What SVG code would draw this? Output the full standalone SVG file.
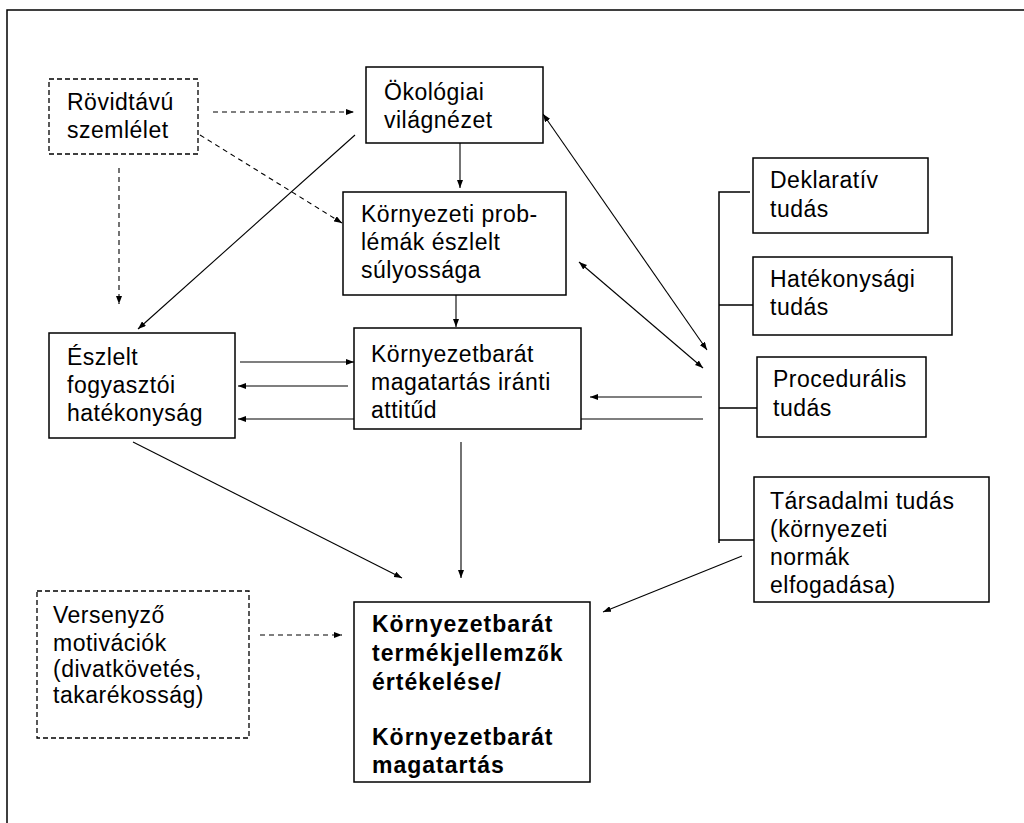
<svg xmlns="http://www.w3.org/2000/svg" width="1024" height="823" viewBox="0 0 1024 823">
<style>
text{font-family:"Liberation Sans",Arial,sans-serif;font-size:23px;letter-spacing:0.5px;fill:#000}
.b{font-weight:bold;letter-spacing:1px}
.box{fill:#fff;stroke:#000;stroke-width:1.5}
.dbox{fill:#fff;stroke:#000;stroke-width:1.3;stroke-dasharray:5 3}
.c{fill:none;stroke:#000;stroke-width:1.1}
.d{stroke-dasharray:5 4}
.a{marker-end:url(#ah)}
.aa{marker-start:url(#ah);marker-end:url(#ah)}
</style>
<defs>
<marker id="ah" viewBox="0 0 8 6" refX="8" refY="3" markerWidth="8" markerHeight="6" orient="auto-start-reverse" markerUnits="userSpaceOnUse"><path d="M0,0 L8,3 L0,6 z" fill="#000"/></marker>
</defs>
<rect width="1024" height="823" fill="#fff"/>
<path d="M7,823 V10 H1024" fill="none" stroke="#000" stroke-width="1.5"/>
<g id="connectors">
<path class="c d a" d="M213,112 H354"/>
<path class="c d a" d="M200,135 L342,223"/>
<path class="c d a" d="M119,168 V304"/>
<path class="c d a" d="M260,635 H342"/>
<path class="c a" d="M355,135 L138,329"/>
<path class="c a" d="M460,143 V188"/>
<path class="c a" d="M456,295 V327"/>
<path class="c a" d="M240,362 H354"/>
<path class="c a" d="M348,386 H238"/>
<path class="c a" d="M703,419 H238"/>
<path class="c a" d="M702,397 H590"/>
<path class="c aa" d="M543,114 L707,350"/>
<path class="c aa" d="M579,262 L703,368"/>
<path class="c a" d="M133,442 L402,578"/>
<path class="c a" d="M461,442 V578"/>
<path class="c a" d="M742,556 L603,612"/>
<path class="c" stroke-width="1.5" d="M750,192 H719 V543 M719,305 H753 M719,408 H757 M719,540 H755" style="stroke-width:1.5"/>
</g>
<g id="rovidtavu">
<rect class="dbox" x="49" y="79" width="149" height="75"/>
<text x="67" y="110">Rövidtávú</text>
<text x="67" y="138">szemlélet</text>
</g>
<g id="okologiai">
<rect class="box" x="366" y="67" width="177" height="76"/>
<text x="384" y="100">Ökológiai</text>
<text x="384" y="128">világnézet</text>
</g>
<g id="kornyezeti-problemak">
<rect class="box" x="343" y="192" width="223" height="103"/>
<text x="361" y="222">Környezeti prob-</text>
<text x="361" y="250">lémák észlelt</text>
<text x="361" y="278">súlyossága</text>
</g>
<g id="eszlelt">
<rect class="box" x="49" y="333" width="186" height="105"/>
<text x="67" y="365">Észlelt</text>
<text x="67" y="393">fogyasztói</text>
<text x="67" y="421">hatékonyság</text>
</g>
<g id="attitud">
<rect class="box" x="354" y="328" width="227" height="101"/>
<text x="371" y="362">Környezetbarát</text>
<text x="371" y="390">magatartás iránti</text>
<text x="371" y="418">attitűd</text>
</g>
<g id="deklarativ">
<rect class="box" x="753" y="158" width="175" height="75"/>
<text x="770" y="188">Deklaratív</text>
<text x="770" y="217">tudás</text>
</g>
<g id="hatekonysagi">
<rect class="box" x="753" y="257" width="199" height="78"/>
<text x="770" y="287">Hatékonysági</text>
<text x="770" y="315">tudás</text>
</g>
<g id="proceduralis">
<rect class="box" x="757" y="357" width="169" height="80"/>
<text x="773" y="387">Procedurális</text>
<text x="773" y="416">tudás</text>
</g>
<g id="tarsadalmi">
<rect class="box" x="754" y="477" width="235" height="125"/>
<text x="770" y="509">Társadalmi tudás</text>
<text x="770" y="537">(környezeti</text>
<text x="770" y="565">normák</text>
<text x="770" y="593">elfogadása)</text>
</g>
<g id="versenyzo">
<rect class="dbox" x="37" y="591" width="212" height="147"/>
<text x="53" y="623">Versenyző</text>
<text x="53" y="651">motivációk</text>
<text x="53" y="677">(divatkövetés,</text>
<text x="53" y="703">takarékosság)</text>
</g>
<g id="ertekeles">
<rect class="box" x="354" y="602" width="236" height="180"/>
<text class="b" x="372" y="632">Környezetbarát</text>
<text class="b" x="372" y="661">termékjellemz<tspan style="font-family:'Liberation Serif','Times New Roman',serif">ő</tspan>k</text>
<text class="b" x="372" y="690">értékelése/</text>
<text class="b" x="372" y="745">Környezetbarát</text>
<text class="b" x="372" y="773">magatartás</text>
</g>
</svg>
